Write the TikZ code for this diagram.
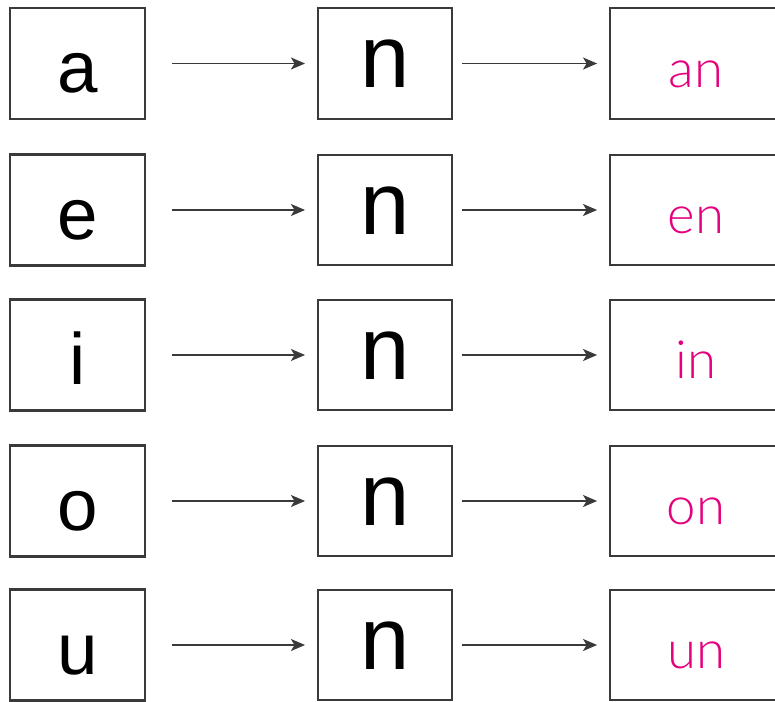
\documentclass[tikz,border=0pt]{standalone}
\usepackage{fontspec}
\setmainfont{Liberation Sans}
\newfontfamily\pinkfont{Lato Light}
\usepackage{tikz}
\usetikzlibrary{calc}
\usetikzlibrary{positioning}
\usetikzlibrary{arrows.meta}

\definecolor{boxgray}{HTML}{3A3A3A}
\definecolor{syllablepink}{HTML}{E5007D}

\tikzset{
    letterbox/.style={rectangle, draw=boxgray, line width=2pt, inner sep=0pt, outer sep=0pt, text centered, text depth=0pt},
    link/.style={-{Stealth[length=0.47cm, width=0.4cm, inset=0.12cm]}, draw=boxgray, fill=boxgray, line width=1.7pt}
}

\begin{document}
\begin{tikzpicture}[x=0.03333cm, y=-0.03333cm]
    \useasboundingbox (0,0) rectangle (775,702);
    \clip (0,0) rectangle (775,702);

    \foreach \i/\v/\y in {1/a/63.5, 2/e/210, 3/i/355, 4/o/501, 5/u/645} {
        \node [letterbox, minimum width=4.5cm, minimum height=3.7cm, text height=55pt, font=\fontsize{69}{69}\selectfont] (vowel\i) at (77.5, \y) {\v};
        \node [letterbox, minimum width=4.47cm, minimum height=3.67cm, text height=46pt, font=\fontsize{84}{84}\selectfont] (nasal\i) at (385, \y) {n};
        \node [letterbox, minimum width=5.73cm, minimum height=3.67cm, text height=45pt, text=syllablepink, font=\pinkfont\fontsize{50}{50}\selectfont] (syllable\i) at (696, \y) {\v n};

        \draw [link, shorten <=0.9cm, shorten >=0.43cm] (vowel\i.east) -- (nasal\i.west);
        \draw [link, shorten <=0.33cm, shorten >=0.43cm] (nasal\i.east) -- (syllable\i.west);
    }
\end{tikzpicture}
\end{document}
